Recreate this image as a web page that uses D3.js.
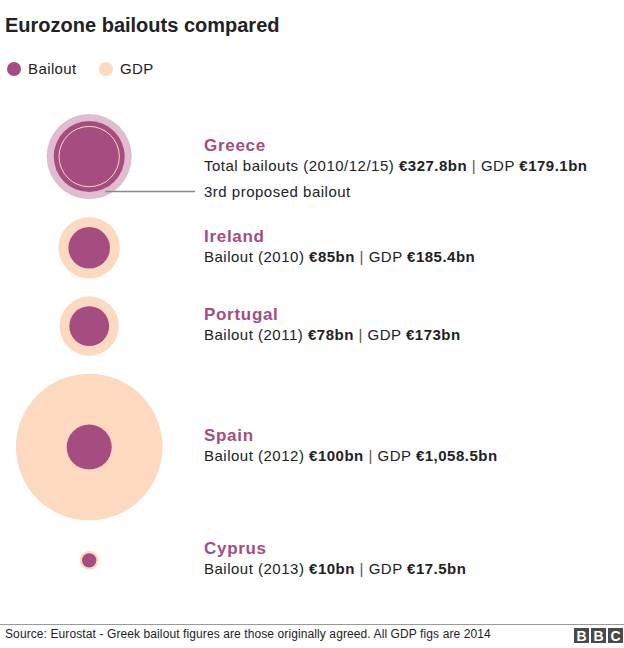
<!DOCTYPE html>
<html>
<head>
<meta charset="utf-8">
<script src="https://cdn.jsdelivr.net/npm/d3@7"></script>
<style>
  html, body { margin: 0; padding: 0; background: #fff; }
  svg { display: block; font-family: "Liberation Sans", Arial, Helvetica, sans-serif; }
</style>
</head>
<body>
<svg id="chart" width="624" height="648"></svg>
<script>
// ---- data ----
const countries = ["Greece", "Ireland", "Portugal", "Spain", "Cyprus"];
const bailoutLabels = ["Total bailouts (2010/12/15)", "Bailout (2010)", "Bailout (2011)", "Bailout (2012)", "Bailout (2013)"];
const bailoutValues = [327.8, 85, 78, 100, 10];      // € bn
const gdpValues = [179.1, 185.4, 173, 1058.5, 17.5];  // € bn, 2014
const bailoutText = ["€327.8bn", "€85bn", "€78bn", "€100bn", "€10bn"];
const gdpText = ["€179.1bn", "€185.4bn", "€173bn", "€1,058.5bn", "€17.5bn"];
const greeceLayerValues = [248, 357];
const greeceNote = "3rd proposed bailout";

// ---- styles ----
const C_BAIL = "#a54c81";
const C_GDP = "#fdd9bf";
const C_PROPOSED = "#dfbcd0";
const C_NAME = "#a54c81";
const C_TEXT = "#222222";

const svg = d3.select("#chart");

const r = d3.scaleSqrt().domain([0, 1058.5]).range([0, 73.3]);

// title
svg.append("text").attr("x", 5).attr("y", 32)
  .attr("font-size", 20).attr("font-weight", "bold").attr("fill", C_TEXT)
  .text("Eurozone bailouts compared");

// legend
const legend = [{label: "Bailout", color: C_BAIL, x: 14}, {label: "GDP", color: C_GDP, x: 106}];
const lg = svg.append("g").selectAll("g").data(legend).join("g");
lg.append("circle").attr("cx", d => d.x).attr("cy", 69).attr("r", 7).attr("fill", d => d.color);
lg.append("text").attr("x", d => d.x + 14).attr("y", 74).attr("font-size", 15)
  .attr("letter-spacing", 0.4).attr("fill", C_TEXT).text(d => d.label);

// layout: stack circles vertically
const rows = countries.map((c, i) => {
  const outer = i === 0 ? r(greeceLayerValues[1]) : Math.max(r(gdpValues[i]), r(bailoutValues[i]));
  return {country: c, i, half: Math.max(outer, 22)};
});
let y = 114;
rows.forEach((d, i) => {
  d.cy = y + d.half;
  y = d.cy + d.half + 18;
});
const cx = 89.2;

const g = svg.append("g");
rows.forEach(d => {
  const i = d.i;
  const row = g.append("g");
  if (i === 0) {
    row.append("circle").attr("cx", cx).attr("cy", d.cy).attr("r", r(greeceLayerValues[1])).attr("fill", C_PROPOSED);
    row.append("circle").attr("cx", cx).attr("cy", d.cy).attr("r", r(greeceLayerValues[0])).attr("fill", C_BAIL);
    row.append("circle").attr("cx", cx).attr("cy", d.cy).attr("r", r(gdpValues[i]))
      .attr("fill", "none").attr("stroke", C_GDP).attr("stroke-width", 1);
    // leader line
    const ang = Math.PI * 0.36;
    const R = r(greeceLayerValues[1]);
    const lx = cx + R * Math.cos(ang) - 2;
    const ly = d.cy + 35;
    row.append("line").attr("x1", lx).attr("x2", 195).attr("y1", ly).attr("y2", ly)
      .attr("stroke", "#8a8a8a").attr("stroke-width", 1.5);
    row.append("text").attr("x", 204).attr("y", d.cy + 40).attr("font-size", 15)
      .attr("letter-spacing", 0.5).attr("fill", C_TEXT).text(greeceNote);
  } else {
    row.append("circle").attr("cx", cx).attr("cy", d.cy).attr("r", r(gdpValues[i])).attr("fill", C_GDP);
    row.append("circle").attr("cx", cx).attr("cy", d.cy).attr("r", r(bailoutValues[i])).attr("fill", C_BAIL);
  }
  row.append("text").attr("x", 204).attr("y", d.cy - 6)
    .attr("font-size", 17).attr("font-weight", "bold").attr("letter-spacing", 0.7)
    .attr("fill", C_NAME).text(d.country);
  const t = row.append("text").attr("x", 204).attr("y", d.cy + 14).attr("font-size", 15)
    .attr("letter-spacing", 0.5).attr("fill", C_TEXT);
  t.append("tspan").text(bailoutLabels[i] + " ");
  t.append("tspan").attr("font-weight", "bold").text(bailoutText[i]);
  t.append("tspan").attr("fill", "#555").text(" | ");
  t.append("tspan").text("GDP ");
  t.append("tspan").attr("font-weight", "bold").text(gdpText[i]);
});

// footer
svg.append("line").attr("x1", 0).attr("x2", 624).attr("y1", 624.5).attr("y2", 624.5)
  .attr("stroke", "#9a9a9a").attr("stroke-width", 1);
svg.append("text").attr("x", 5).attr("y", 638).attr("font-size", 12).attr("letter-spacing", 0.1)
  .attr("fill", C_TEXT)
  .text("Source: Eurostat - Greek bailout figures are those originally agreed. All GDP figs are 2014");

const bbc = ["B", "B", "C"];
const bg = svg.append("g").selectAll("g").data(bbc).join("g")
  .attr("transform", (d, i) => `translate(${574 + i * 17},628)`);
bg.append("rect").attr("width", 15).attr("height", 15).attr("fill", "#4a4a4a");
bg.append("text").attr("x", 7.5).attr("y", 12.5).attr("text-anchor", "middle")
  .attr("font-size", 14).attr("font-weight", "bold").attr("fill", "#fff").text(d => d);
</script>
</body>
</html>
